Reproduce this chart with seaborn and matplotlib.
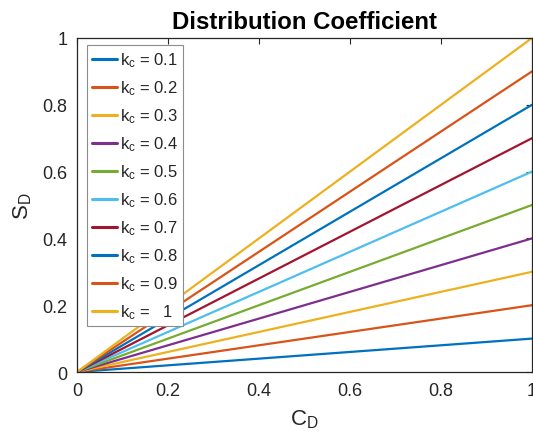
import matplotlib
matplotlib.use("Agg")
import matplotlib.pyplot as plt
import seaborn as sns
import pandas as pd
from matplotlib.ticker import FixedLocator, FuncFormatter

# Concentration range and distribution coefficients
c_d = [0.0, 1.0]
k_c = [0.1, 0.2, 0.3, 0.4, 0.5, 0.6, 0.7, 0.8, 0.9, 1.0]
k_c_text = ["0.1", "0.2", "0.3", "0.4", "0.5", "0.6", "0.7", "0.8", "0.9", "  1"]
ticks = [0, 0.2, 0.4, 0.6, 0.8, 1]

line_colors = ["#0072BD", "#D95319", "#EDB120", "#7E2F8E", "#77AC30",
               "#4DBEEE", "#A2142F", "#0072BD", "#D95319", "#EDB120"]

sns.set_style("white")
plt.rcParams["font.family"] = ["Liberation Sans", "DejaVu Sans"]
plt.rcParams["mathtext.fontset"] = "custom"
plt.rcParams["mathtext.rm"] = "Liberation Sans"
plt.rcParams["mathtext.it"] = "Liberation Sans"

ink = "#262626"

rows = []
labels = []
for k, txt in zip(k_c, k_c_text):
    lab = r"k$_\mathregular{c}$ = " + txt
    labels.append(lab)
    for x in c_d:
        rows.append({"C_D": x, "S_D": k * x, "series": lab})
df = pd.DataFrame(rows)

fig = plt.figure(figsize=(5.33, 4.39), dpi=100)
ax = fig.add_axes([77 / 533, 1 - 373 / 439, 455 / 533, 334 / 439])

sns.lineplot(data=df, x="C_D", y="S_D", hue="series", hue_order=labels,
             palette=line_colors, linewidth=1.6, ax=ax, legend="full")

ax.set_xlim(0, 1)
ax.set_ylim(0, 1)
fmt = FuncFormatter(lambda v, p: "%g" % v)
ax.xaxis.set_major_locator(FixedLocator(ticks))
ax.yaxis.set_major_locator(FixedLocator(ticks))
ax.xaxis.set_major_formatter(fmt)
ax.yaxis.set_major_formatter(fmt)
ax.tick_params(direction="in", length=4, width=0.8, colors=ink,
               labelsize=13, top=True, right=True, pad=7)
for s in ax.spines.values():
    s.set_visible(True)
    s.set_color(ink)
    s.set_linewidth(0.9)

ax.set_xlabel(r"C$_\mathregular{D}$", fontsize=16, color=ink, labelpad=6)
ax.set_ylabel(r"S$_\mathregular{D}$", fontsize=16, color=ink, labelpad=6)
ax.set_title("Distribution Coefficient", fontsize=17.3, fontweight="bold",
             color="black", pad=7)

leg = ax.legend(loc="upper left", bbox_to_anchor=(0.022, 0.978),
                fontsize=12, frameon=True, fancybox=False, framealpha=1,
                edgecolor="#8c8c8c", handlelength=1.5, handletextpad=0.15,
                labelspacing=0.56, borderpad=0.3, borderaxespad=0.0)
leg.get_frame().set_linewidth(0.8)
for t in leg.get_texts():
    t.set_color(ink)
for h in leg.get_lines():
    h.set_linewidth(2.2)

fig.savefig("out.png", dpi=100)
